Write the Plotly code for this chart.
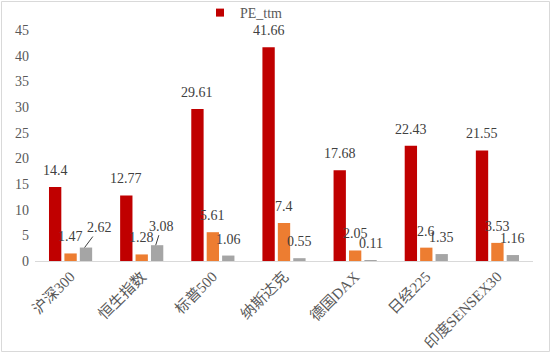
import plotly.graph_objects as go

categories = ["沪深300", "恒生指数", "标普500", "纳斯达克", "德国DAX", "日经225", "印度SENSEX30"]
pe_ttm = [14.4, 12.77, 29.61, 41.66, 17.68, 22.43, 21.55]
series2 = [1.47, 1.28, 5.61, 7.4, 2.05, 2.6, 3.53]
series3 = [2.62, 3.08, 1.06, 0.55, 0.11, 1.35, 1.16]
y_ticks = [0, 5, 10, 15, 20, 25, 30, 35, 40, 45]

colors = ["#C00000", "#ED7D31", "#A5A5A5"]
font_fam = "Liberation Serif, Noto Sans CJK SC, serif"
txt_col = "#595959"

W, H = 554, 355
ml, mr, mt, mb = 35, 21, 30, 94

fig = go.Figure()
all_series = [pe_ttm, series2, series3]
for s, col in zip(all_series, colors):
    fig.add_trace(go.Bar(x=categories, y=s, marker=dict(color=col, line=dict(width=0)),
                         showlegend=False, legendgroup="g" + col, hoverinfo="x+y"))
# legend entry for PE_ttm
fig.add_trace(go.Scatter(x=[None], y=[None], mode="markers", name="PE_ttm",
                         legendgroup="g" + colors[0],
                         marker=dict(symbol="square", size=8, color=colors[0])))

slot_px = 15.5
offsets = [-slot_px, 0, slot_px]
# leader-line labels: (series index, category index) -> (ax, ay)
leaders = {(2, 0): (15, -20), (2, 1): (6, -19)}
annotations = []
for si, s in enumerate(all_series):
    for ci, v in enumerate(s):
        if (si, ci) in leaders:
            ax, ay = leaders[(si, ci)]
            annotations.append(dict(x=categories[ci], y=v, xref="x", yref="y",
                                    xshift=offsets[si] - 1.5, text=str(v),
                                    showarrow=True, arrowhead=0, arrowwidth=1,
                                    arrowcolor="#404040", ax=ax, ay=ay, standoff=0,
                                    font=dict(family=font_fam, size=14, color="#404040")))
        else:
            annotations.append(dict(x=categories[ci], y=v, xref="x", yref="y",
                                    xshift=offsets[si], yshift=16.5, yanchor="middle",
                                    text=str(v), showarrow=False,
                                    font=dict(family=font_fam, size=14, color="#404040")))

pw = W - ml - mr
ph = H - mt - mb
shapes = [dict(type="rect", xref="paper", yref="paper",
               x0=(1.5 - ml) / pw, x1=(549.5 - ml) / pw,
               y0=1 - (1.5 - mt) / ph, y1=1 - (351.5 - mt) / ph,
               line=dict(color="#D9D9D9", width=1), layer="above")]

fig.update_layout(
    width=W, height=H,
    margin=dict(l=ml, r=mr, t=mt, b=mb, autoexpand=False),
    paper_bgcolor="white", plot_bgcolor="white",
    barmode="group", bargap=0.35, bargroupgap=0.2,
    font=dict(family=font_fam, size=14, color=txt_col),
    showlegend=True,
    legend=dict(x=(200 - ml) / pw, xanchor="left", y=1 + (mt - 13) / ph, yanchor="middle",
                orientation="h", font=dict(family=font_fam, size=14, color=txt_col),
                bgcolor="rgba(0,0,0,0)"),
    annotations=annotations,
    shapes=shapes,
)
fig.update_xaxes(showline=True, linecolor="#D9D9D9", linewidth=1, showgrid=False,
                 tickangle=-45, tickfont=dict(family=font_fam, size=15, color=txt_col),
                 ticks="", automargin=False)
fig.update_yaxes(range=[0, 45], tickvals=y_ticks, showgrid=False, zeroline=False,
                 showline=False, ticks="", ticklabelstandoff=5, automargin=False,
                 tickfont=dict(family=font_fam, size=14, color=txt_col))

fig.write_html("out.html")
